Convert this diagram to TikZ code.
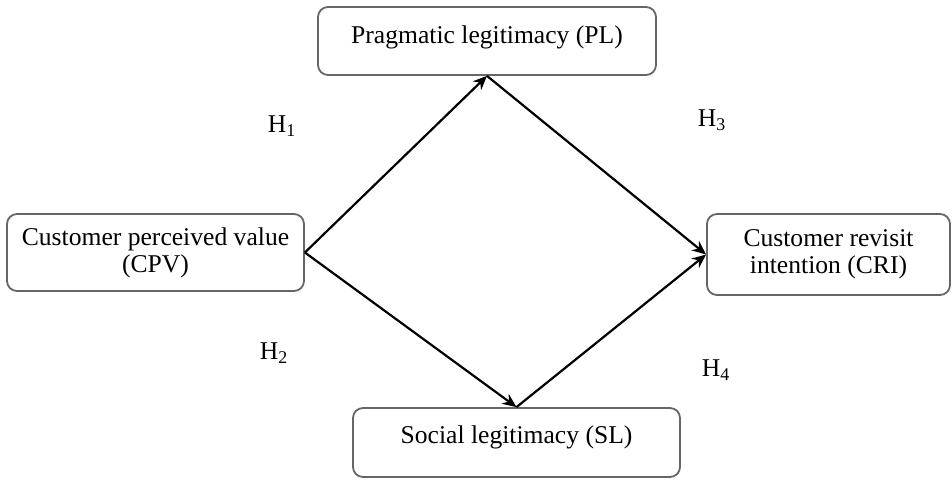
\documentclass[tikz,border=0pt]{standalone}
\usepackage{fontspec}
\setmainfont{Liberation Serif}
\usetikzlibrary{arrows.meta}
\begin{document}
\begin{tikzpicture}[
    x=0.5pt, y=-0.5pt,
    every node/.style={font=\fontsize{12.8}{13.5}\selectfont},
    box/.style={rectangle, rounded corners=5pt, draw=black!60, line width=0.9pt, fill=white, align=center, inner sep=0pt},
    edge/.style={draw, -{Stealth[length=7pt,width=6pt]}, line width=1.1pt},
    hyp/.style={inner sep=1pt}
]
\useasboundingbox (0,0) rectangle (952,479);

% Left
\node[box, minimum width=148.5pt, minimum height=38.5pt] (CPV) at (155.5,252.5) {Customer perceived value\\(CPV)};

% Middle
\node[box, minimum width=169pt, text height=18pt, text depth=16pt] (PL) at (487,41) {Pragmatic legitimacy (PL)};
\node[box, minimum width=163.5pt, text height=17.5pt, text depth=17pt] (SL) at (516.5,442.5) {Social legitimacy (SL)};

% Right
\node[box, minimum width=121.5pt, minimum height=40.5pt] (CRI) at (828.5,254.5) {Customer revisit\\intention (CRI)};

% Edges
\draw[edge] (CPV.east) -- (PL.south);
\draw[edge] (CPV.east) -- (SL.north);
\draw[edge] (PL.south) -- (CRI.west);
\draw[edge] (SL.north) -- (CRI.west);

% Hypotheses
\node[hyp] (h1) at (282,126) {H\textsubscript{1}};
\node[hyp] (h2) at (274,353) {H\textsubscript{2}};
\node[hyp] (h3) at (712,120) {H\textsubscript{3}};
\node[hyp] (h4) at (716,370) {H\textsubscript{4}};
\end{tikzpicture}
\end{document}
